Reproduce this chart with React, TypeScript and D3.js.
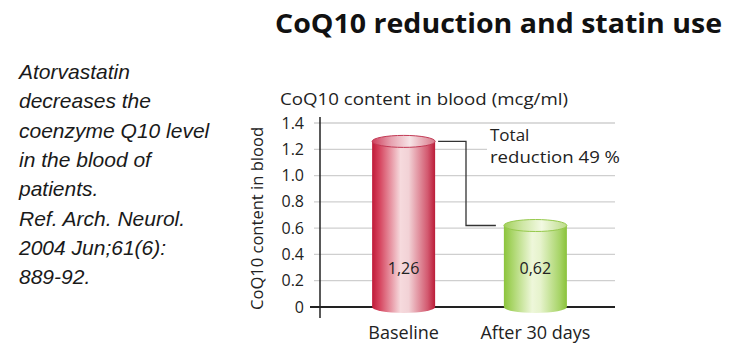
import React from "react";
import * as d3 from "d3";

const categories = ["Baseline", "After 30 days"];
const values = [1.26, 0.62];
const valueLabels = ["1,26", "0,62"];
const yTicks = [0, 0.2, 0.4, 0.6, 0.8, 1.0, 1.2, 1.4];
const yTickLabels = ["0", "0.2", "0.4", "0.6", "0.8", "1.0", "1.2", "1.4"];
const noteLines = [
  "Atorvastatin",
  "decreases the",
  "coenzyme Q10 level",
  "in the blood of",
  "patients.",
  "Ref. Arch. Neurol.",
  "2004 Jun;61(6):",
  "889-92.",
];
const title = "CoQ10 reduction and statin use";
const axisTitle = "CoQ10 content in blood (mcg/ml)";
const yAxisTitle = "CoQ10 content in blood";
const annotation = ["Total", "reduction 49 %"];

const W = 738;
const H = 351;
const FONT = "'Open Sans', 'Noto Sans', sans-serif";

export default function App() {
  const y = d3.scaleLinear().domain([0, 1.4]).range([307, 123]);
  const x = d3.scalePoint<string>().domain(categories).range([337.75, 601.25]).padding(0.5);
  const bw = 63;
  const ry = 6;
  const gridX0 = 314;
  const gridX1 = 615;
  const axisX = 320;

  const grads = [
    {
      id: "redBody",
      stops: [
        [0, "#c01a38"],
        [0.12, "#d6455f"],
        [0.45, "#f6dadd"],
        [0.58, "#f2d2d6"],
        [0.88, "#d35a70"],
        [1, "#bb1c38"],
      ],
    },
    {
      id: "redTop",
      stops: [
        [0, "#cf3f5c"],
        [0.3, "#e7a2b0"],
        [0.6, "#f6e4e6"],
        [1, "#d9788a"],
      ],
    },
    {
      id: "greenBody",
      stops: [
        [0, "#8cc43c"],
        [0.12, "#a7d465"],
        [0.45, "#eef7da"],
        [0.58, "#e6f3cc"],
        [0.88, "#a9d56a"],
        [1, "#8ac23a"],
      ],
    },
    {
      id: "greenTop",
      stops: [
        [0, "#a2d05a"],
        [0.3, "#cfe7a6"],
        [0.6, "#f2f9e2"],
        [1, "#bcdc88"],
      ],
    },
  ];
  const bodyIds = ["redBody", "greenBody"];
  const topIds = ["redTop", "greenTop"];
  const rimColors = ["#c23a55", "#96c94c"];

  const b0 = x(categories[0])!;
  const b1 = x(categories[1])!;
  const conn = [
    [b0 + bw / 2 + 3, y(values[0])],
    [466, y(values[0])],
    [466, y(values[1])],
    [b1 - bw / 2 - 8, y(values[1])],
  ] as [number, number][];
  const connPath = d3.line()(conn)!;

  return (
    <svg width={W} height={H} style={{ position: "absolute", left: 0, top: 0, background: "#fff" }}>
      <defs>
        {grads.map((g) => (
          <linearGradient key={g.id} id={g.id} x1="0" x2="1" y1="0" y2="0">
            {g.stops.map(([o, c], i) => (
              <stop key={i} offset={o as number} stopColor={c as string} />
            ))}
          </linearGradient>
        ))}
      </defs>
      <rect x={0} y={0} width={W} height={H} fill="#fff" />

      {/* left note */}
      {noteLines.map((t, i) => (
        <text
          key={i}
          x={19}
          y={79 + i * 29.3}
          fontFamily="'Liberation Sans', Arial, sans-serif"
          fontStyle="italic"
          fontSize={21}
          fill="#1a1a1a"
        >
          {t}
        </text>
      ))}

      {/* title */}
      <text x={275} y={33} fontFamily={FONT} fontWeight={700} fontSize={26} fill="#111" textLength={447} lengthAdjust="spacingAndGlyphs">
        {title}
      </text>

      {/* axis title */}
      <text x={280} y={105} fontFamily={FONT} fontSize={17} fill="#222" textLength={288} lengthAdjust="spacingAndGlyphs">
        {axisTitle}
      </text>

      {/* gridlines */}
      {yTicks.slice(1).map((t, i) => (
        <line key={i} x1={gridX0} x2={gridX1} y1={y(t)} y2={y(t)} stroke="#cfcfcf" strokeWidth={1.3} />
      ))}

      {/* white patch behind annotation */}
      <rect x={487} y={126} width={130} height={40} fill="#fff" />

      {/* tick labels */}
      {yTicks.map((t, i) => (
        <text key={i} x={304} y={y(t)} dy="0.35em" textAnchor="end" fontFamily={FONT} fontSize={16} fill="#222">
          {yTickLabels[i]}
        </text>
      ))}

      {/* y axis title */}
      <text
        transform={`translate(263,${(127 + 310) / 2}) rotate(-90)`}
        textAnchor="middle"
        fontFamily={FONT}
        fontSize={16}
        fill="#222"
        textLength={183}
        lengthAdjust="spacingAndGlyphs"
      >
        {yAxisTitle}
      </text>

      {/* axes */}
      <line x1={axisX} x2={axisX} y1={117} y2={318} stroke="#222" strokeWidth={1.5} />
      <line x1={310} x2={gridX1} y1={y(0)} y2={y(0)} stroke="#222" strokeWidth={1.8} />

      {/* bars */}
      {categories.map((c, i) => {
        const cx = x(c)!;
        const yt = y(values[i]);
        const yb = y(0);
        return (
          <g key={c}>
            <ellipse cx={cx} cy={yb} rx={bw / 2} ry={ry} fill={`url(#${bodyIds[i]})`} />
            <rect x={cx - bw / 2} y={yt} width={bw} height={yb - yt} fill={`url(#${bodyIds[i]})`} />
            <ellipse cx={cx} cy={yt} rx={bw / 2} ry={ry} fill={`url(#${topIds[i]})`} stroke={rimColors[i]} strokeWidth={1} />
            <text x={cx} y={268} dy="0.35em" textAnchor="middle" fontFamily={FONT} fontSize={16} fill="#222">
              {valueLabels[i]}
            </text>
            <text x={cx} y={333} dy="0.35em" textAnchor="middle" fontFamily={FONT} fontSize={18} fill="#222">
              {c}
            </text>
          </g>
        );
      })}

      {/* connector */}
      <path d={connPath} fill="none" stroke="#333" strokeWidth={1.3} />

      {/* annotation */}
      <text x={490} y={141} fontFamily={FONT} fontSize={17} fill="#222">
        {annotation[0]}
      </text>
      <text x={490} y={163} fontFamily={FONT} fontSize={17} fill="#222" textLength={130} lengthAdjust="spacingAndGlyphs">
        {annotation[1]}
      </text>
    </svg>
  );
}
